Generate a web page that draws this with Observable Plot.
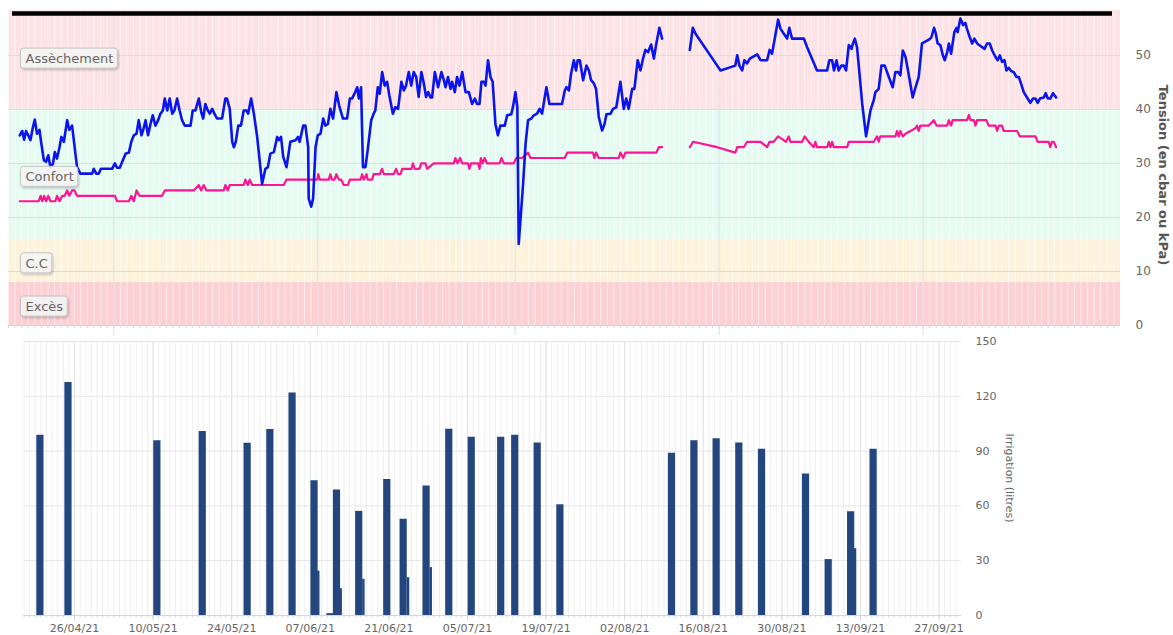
<!DOCTYPE html>
<html><head><meta charset="utf-8">
<script src="https://cdn.jsdelivr.net/npm/d3@7"></script>
<script src="https://cdn.jsdelivr.net/npm/@observablehq/plot@0.6"></script>
<style>
body{margin:0;background:#fff;font-family:"DejaVu Sans",sans-serif;}
#wrap{position:relative;width:1173px;height:635px;overflow:hidden;background:#fff}
#top{position:absolute;left:0;top:0}
#bot{position:absolute;left:0;top:336px}
</style></head><body><div id="wrap"><div id="top"></div><div id="bot"></div></div>
<script>
// ---- Tension sonde 1 (bleu) ----
const blueDates = ["04-16 17","04-17 02","04-17 09","04-17 16","04-18 00","04-18 08","04-18 17","04-19 00","04-19 08","04-19 17","04-20 00","04-20 09","04-20 17","04-21 01","04-21 09","04-21 18","04-22 01","04-22 09","04-22 18","04-23 01","04-23 10","04-23 22","04-24 06","04-24 16","04-25 04","04-25 10","04-25 22","04-27 17","04-27 23","04-28 08","04-28 17","04-29 01","04-30 18","05-01 04","05-01 12","05-01 22","05-02 06","05-02 19","05-03 07","05-03 16","05-04 01","05-04 11","05-04 19","05-05 05","05-05 13","05-05 20","05-06 05","05-06 14","05-06 22","05-07 08","05-07 18","05-08 02","05-08 11","05-08 18","05-09 03","05-09 12","05-09 21","05-10 05","05-10 15","05-11 00","05-11 09","05-11 19","05-12 16","05-13 00",
"05-13 10","05-13 22","05-14 07","05-14 14","05-14 22","05-15 07","05-15 14","05-15 23","05-16 07","05-16 17","05-17 11","05-17 23","05-18 05","05-18 15","05-19 00","05-19 06","05-19 13","05-19 22","05-20 08","05-20 18","05-21 04","05-21 10","05-21 21","05-22 07","05-22 19","05-23 13","05-24 01","05-24 10","05-24 19","05-25 08","05-25 20","05-26 02","05-26 10","05-26 18","05-27 06","05-27 20","05-28 15","05-29 00","05-29 06","05-29 19","05-30 03","05-30 13","05-30 15","05-31 00","05-31 07","05-31 16","06-01 00","06-01 10","06-01 20","06-02 04","06-02 13","06-02 22","06-03 08","06-03 20","06-04 06","06-04 20","06-05 11","06-05 21","06-06 05","06-06 14","06-07 00","06-07 06","06-07 14","06-07 21","06-08 06","06-08 14","06-09 03","06-09 12","06-09 18","06-10 03","06-10 10",
"06-10 19","06-11 04","06-11 13","06-11 21","06-12 10","06-12 19","06-13 05","06-13 17","06-14 02","06-14 10","06-14 20","06-15 05","06-15 14","06-15 23","06-16 08","06-16 18","06-17 03","06-17 11","06-17 19","06-18 03","06-18 09","06-18 19","06-19 07","06-19 19","06-20 04","06-20 10","06-20 19","06-21 04","06-21 10","06-21 20","06-22 04","06-22 13","06-22 23","06-23 11","06-23 23","06-24 11","06-24 21","06-25 05","06-25 14","06-25 21","06-26 06","06-26 12","06-26 21","06-27 06","06-27 14","06-28 00","06-28 09","06-28 18","06-29 10","06-29 19","06-30 10","06-30 17","07-01 01","07-01 08","07-01 13","07-02 04","07-02 14","07-02 23","07-03 11","07-03 20","07-04 08","07-04 17","07-05 02","07-05 08","07-05 18","07-06 05","07-08 03","07-08 13",
"07-08 19","07-09 04","07-09 12","07-09 22","07-10 06","07-10 12","07-10 20","07-11 08","07-11 20","07-12 05","07-12 13","07-12 23","07-13 07","07-13 17","07-14 05","07-14 14","07-14 21","07-15 12","07-15 21","07-16 09","07-17 00","07-17 12","07-17 21","07-18 06","07-18 19","07-19 03","07-19 15","07-20 01","07-20 09","07-20 19","07-21 05","07-21 16","07-22 02","07-22 11","07-22 22","07-23 08","07-25 00","07-27 13","07-28 00","07-28 10","07-31 17","08-01 05","08-03 11","08-03 18","08-04 02","08-04 12","08-04 20","08-05 06","08-05 16",
"08-06 06","08-06 19","08-07 07","08-08 07","08-08 16","08-09 01","08-09 11","08-09 23","08-10 08","08-10 20","08-11 08","08-11 16","08-12 02","08-13 21","08-14 09","08-15 21","08-17 10","08-17 18","08-18 04","08-18 11","08-18 20","08-19 04","08-19 14","08-19 23","08-20 07","08-20 17","08-21 03","08-21 07","08-21 15","08-21 23","08-22 18","08-23 08","08-24 00","08-24 12","08-24 18","08-25 06","08-25 16","08-26 04","08-26 19","08-27 09","08-27 19","08-28 05","08-28 13","08-28 22","08-29 08","08-29 20","08-30 10","08-30 20","08-31 08","08-31 20","09-01 21","09-02 06","09-02 16",
"09-02 21","09-03 05","09-03 15","09-04 00","09-04 07","09-04 16","09-04 22","09-05 06","09-05 18","09-06 02","09-06 06","09-06 16","09-07 02","09-07 10","09-07 16","09-08 02","09-08 11","09-08 19","09-09 05","09-10 08","09-10 17","09-11 03","09-11 12","09-12 00","09-12 08","09-12 16","09-13 00","09-13 09","09-13 16","09-14 00","09-14 09","09-14 19","09-15 04","09-15 13","09-15 21","09-16 07","09-16 19","09-17 07","09-17 17","09-18 02","09-18 10","09-18 18","09-19 08","09-19 15","09-19 23","09-20 08","09-20 18","09-21 05"];
const blueValues = [35.2,36.0,34.4,36.0,35.2,34.3,36.7,38.1,35.5,36.2,33.6,30.6,30.3,31.5,29.3,29.9,32.1,30.9,33.0,34.9,34.0,38.0,36.2,37.0,31.8,29.3,28.1,28.1,29.0,28.1,28.1,29.0,29.0,30.0,29.2,29.2,30.2,31.8,32.0,34.0,35.2,35.5,38.0,35.2,36.5,38.0,35.2,37.3,38.9,37.0,38.0,39.2,39.8,42.0,39.8,42.0,39.2,39.8,42.0,39.8,38.0,37.0,37.0,39.8,
39.8,42.0,39.5,38.3,41.0,39.8,39.2,40.1,39.2,38.3,38.3,42.0,42.0,40.1,34.0,33.0,34.0,37.0,37.0,39.8,39.8,39.2,42.0,39.2,34.9,26.2,29.0,29.3,31.8,32.1,34.9,34.3,34.9,31.2,29.3,34.0,34.3,34.9,34.0,37.0,37.0,33.0,23.5,22.0,23.5,33.0,35.2,35.5,38.3,37.0,37.3,40.1,38.3,43.2,40.7,38.3,38.3,42.0,42.0,42.9,44.1,42.0,44.1,29.3,29.3,32.4,38.0,39.2,39.8,44.1,42.9,
46.9,44.4,45.1,42.6,39.2,40.4,40.1,45.1,43.5,44.4,46.9,44.4,46.9,46.0,42.3,46.9,44.8,42.3,43.2,42.2,42.2,46.9,44.1,46.9,45.4,44.1,46.0,43.8,45.1,43.2,46.0,44.4,46.9,43.2,43.2,41.0,42.0,41.0,41.0,45.1,45.1,44.4,49.1,46.0,45.1,37.3,35.2,37.0,37.0,38.9,39.1,40.7,43.2,40.4,15.1,25.5,33.6,38.0,38.3,38.9,39.2,40.1,39.2,41.0,44.1,41.0,41.0,43.5,
44.1,43.5,46.6,49.1,47.2,49.1,49.1,45.4,48.1,47.2,45.4,44.8,43.8,38.6,36.1,37.3,39.1,39.2,40.1,40.4,45.1,40.1,42.0,40.1,43.8,43.8,49.1,47.2,49.1,51.0,50.6,52.0,49.4,52.2,55.1,53.1,NaN,51.0,55.1,54.0,48.1,47.2,48.1,50.0,48.1,47.2,49.1,48.5,49.4,
49.8,50.2,49.1,49.1,51.0,50.3,53.1,56.6,54.9,54.0,53.1,55.1,53.1,53.1,51.5,47.2,47.2,49.1,49.1,47.2,49.1,47.2,48.1,48.1,47.2,51.9,51.2,52.0,53.1,51.5,41.0,35.0,39.8,41.7,43.2,43.8,48.1,48.1,46.0,44.1,46.9,46.9,46.3,50.9,49.7,46.3,42.2,44.0,46.0,52.2,52.9,53.3,55.1,
54.3,52.2,51.9,50.0,49.1,50.6,52.2,50.3,54.3,55.1,54.3,56.8,55.6,56.0,54.9,53.4,52.2,53.1,52.2,51.2,52.2,52.2,50.9,49.7,49.1,50.0,48.8,49.1,47.2,47.7,47.1,46.9,46.0,46.0,44.8,43.2,42.2,41.2,42.0,42.0,41.2,42.0,42.2,43.0,42.0,42.0,43.0,42.2];

// ---- Tension sonde 2 (rose) ----
const pinkDates = ["04-16 17","04-19 14","04-19 21","04-20 03","04-20 10","04-20 17","04-21 01","04-21 09","04-22 03","04-22 09","04-22 18","04-23 04","04-23 13","04-23 22","04-24 06","04-24 16","04-25 01","04-25 10","05-01 04","05-01 12","05-03 07","05-03 16","05-04 01","05-04 11","05-04 22","05-08 08","05-08 18",
"05-13 04","05-13 22","05-14 07","05-14 16","05-15 02","05-17 17","05-17 23","05-18 08","05-18 15","05-20 18","05-21 00","05-21 09","05-21 16","05-22 01","05-26 20","05-27 06","05-31 22","06-01 02","06-01 07","06-02 16","06-02 22","06-03 04","06-03 13","06-03 20","06-04 05","06-04 13","06-04 23","06-05 14","06-05 21","06-07 12","06-07 18","06-08 00","06-08 10","06-08 14","06-09 06","06-09 12","06-10 10",
"06-10 19","06-11 01","06-12 13","06-12 22","06-13 05","06-13 14","06-13 20","06-15 06","06-15 11","06-15 18","06-16 11","06-16 17","06-17 09","06-17 15","06-18 15","06-21 16","06-21 22","06-22 06","06-22 15","06-22 23","06-23 20","06-24 01","06-24 07","06-25 09","06-25 14","06-25 19","06-26 01","06-26 09","06-26 17","06-28 15","06-28 22","06-29 07","06-30 19","07-01 04","07-02 01","07-02 23","07-03 08","07-08 13",
"07-08 22","07-12 20","07-13 01","07-13 07","07-13 17","07-16 18","07-17 00","07-17 10","07-17 18","07-22 11","07-22 20","07-23 08","07-25 00","07-27 13","07-28 01","07-31 17","08-03 11","08-03 18","08-04 18","08-05 06",
"08-06 06","08-07 07","08-08 07","08-08 16","08-09 07","08-09 23","08-10 14","08-11 04","08-11 14","08-11 20","08-13 15","08-14 00","08-14 15","08-15 09","08-15 15","08-15 21","08-17 10","08-17 16","08-17 22","08-18 04","08-18 10","08-20 11","08-20 17","08-24 12","08-25 00","08-25 06","08-25 12","08-27 19","08-28 01","08-28 07","08-28 13","08-28 22","08-29 08","08-30 20","08-31 02","08-31 08","08-31 14","09-01 21","09-02 15",
"09-03 01","09-04 16","09-04 22","09-05 06","09-05 12","09-07 16","09-07 23","09-08 05","09-08 17","09-08 23","09-09 05","09-10 15","09-10 23","09-12 00","09-12 06","09-12 12","09-13 00","09-13 06","09-15 07","09-15 17","09-18 02","09-18 10","09-20 02","09-20 08","09-20 14","09-20 21","09-21 05"];
const pinkValues = [23,23,24,23,24,23,24,23,23,24,23,24,24,25,24,25,25,24,24,23,23,24,23,25,24,24,25,
25,26,25,26,25,25,26,25,26,26,27,26,27,26,26,27,27,28,27,27,28,27,27,28,27,27,26,26,27,27,28,27,28,27,27,28,28,
29,28,28,29,28,28,29,29,30,29,29,30,30,29,30,30,31,30,31,30,30,29,30,30,29,31,30,31,30,30,31,30,30,31,31,32,31,31,
32,32,31,32,31,31,32,31,32,32,33,33,NaN,33,34,33,32,33,33,34,
34,34,33,34,34,35,34.5,34,35,34,34,35,34,33,34,33,33,34,33,34,33,33,34,34,35,34,35,35,36,35,36,35,35.5,36.5,37,36,37,37,38,
37,37,38,37,38,38,39,38,38,37,38,38,37,37,36,37,37,36,36,35,35,34,34,33,34,34,33];

// ---- Zones (bandes) ----
const bandNames = ["Excès", "C.C", "Confort", "Assèchement"];
const bandFrom = [0, 8, 16, 40];
const bandTo = [8, 16, 40, 58.3];
const bandColors = ["#fdd0d3", "#fdf3dc", "#e6fbf1", "#fde3e5"];
const seuil = [57.75];
const tensionTicks = [0, 10, 20, 30, 40, 50];

// ---- Irrigation ----
const irrigDates = ["04-19 20","04-24 20","05-10 16","05-18 18","05-26 18","05-30 19","06-03 18","06-07 16","06-10 12","06-11 16","06-15 15","06-20 15","06-23 13","06-27 15","07-01 16","07-05 16","07-10 22","07-13 10","07-17 10","07-21 11","08-10 08","08-14 08","08-18 07","08-22 08","08-26 09","09-03 05","09-07 06","09-11 06","09-15 06"];
const irrigValues = [98.7,127.6,95.6,100.7,94.3,101.8,121.8,73.8,1,68.7,57.0,74.5,52.7,70.9,102.0,97.6,97.6,98.7,94.5,60.6,88.8,95.6,96.7,94.5,91.0,77.5,30.6,56.8,91.0];
const irrig2Dates = ["06-08 10","06-12 10","06-16 11","06-24 10","06-28 11","09-12 01"];
const irrig2Values = [24.3,14.7,19.8,20.7,26.2,36.6];
const irrigTicks = [0, 30, 60, 90, 120, 150];
const dateTicks = ["04-26","05-10","05-24","06-07","06-21","07-05","07-19","08-02","08-16","08-30","09-13","09-27"];

// ---- build ----
const P = s => d3.utcParse("%Y-%m-%d %H")("2021-" + s);
const PD = s => d3.utcParse("%Y-%m-%d")("2021-" + s);
const blue = blueDates.map((d, i) => ({date: P(d), value: blueValues[i]}));
const pink = pinkDates.map((d, i) => ({date: P(d), value: pinkValues[i]}));
const bands = bandNames.map((n, i) => ({name: n, from: bandFrom[i], to: bandTo[i], color: bandColors[i]}));
const irrig = irrigDates.map((d, i) => ({date: P(d), value: irrigValues[i]}));
const irrig2 = irrig2Dates.map((d, i) => ({date: P(d), value: irrig2Values[i]}));
const ticksX = dateTicks.map(PD);

const topX = [PD("04-15"), PD("10-01")];
const topDays = d3.utcDay.range(topX[0], topX[1]);
const months = d3.utcMonth.range(PD("05-01"), topX[1]);
const font = '"DejaVu Sans", sans-serif';
const labelOpts = {y: d => (d.from + d.to) / 2, text: "name", frameAnchor: "left", dx: 17, textAnchor: "start", fontSize: 13, fill: "#666"};

const topPlot = Plot.plot({
  width: 1173, height: 336,
  marginLeft: 8, marginRight: 53, marginTop: 10, marginBottom: 11,
  style: {fontFamily: font, fontSize: "12px", color: "#666", background: "transparent", overflow: "visible"},
  x: {type: "utc", domain: topX, axis: null},
  y: {domain: [0, 58.3], axis: "right", ticks: tensionTicks, tickSize: 0, tickPadding: 15, label: null},
  marks: [
    ...bands.map(b => Plot.rect([b], {x1: () => topX[0], x2: () => topX[1], y1: "from", y2: "to", fill: b.color})),
    Plot.ruleX(topDays, {y1: 0, y2: 58.3, stroke: "#fff", strokeOpacity: 0.6}),
    Plot.ruleY(tensionTicks.slice(1), {stroke: "#dcdcdc"}),
    Plot.ruleX(months, {y1: -1.85, y2: 58.3, stroke: "#dcdfe9"}),
    Plot.ruleX(topDays, {y1: 0, y2: -0.6, stroke: "#ccd6eb"}),
    Plot.ruleY([0], {stroke: "#ccd6eb"}),
    Plot.ruleY(seuil, {stroke: "#000", strokeWidth: 4.5, insetLeft: 4, insetRight: 8}),
    Plot.line(pink, {x: "date", y: "value", stroke: "#ff1493", strokeWidth: 2.2}),
    Plot.line(blue, {x: "date", y: "value", stroke: "#0a14f0", strokeWidth: 2.6}),
    Plot.text(bands, {...labelOpts, filter: d => d.to < 50, dy: 3}),
    Plot.text(bands, {...labelOpts, filter: d => d.to >= 50, dy: -1})
  ]
});
document.getElementById("top").append(topPlot);

// label boxes
const ts = d3.select(topPlot);
ts.insert("defs", ":first-child").html('<filter id="shadow" x="-20%" y="-30%" width="150%" height="180%"><feDropShadow dx="1" dy="1.5" stdDeviation="1" flood-color="#000" flood-opacity="0.25"/></filter>');
ts.selectAll("text").filter(function() { return bandNames.includes(this.textContent); }).each(function() {
  const b = this.getBBox();
  d3.select(this.parentNode).insert("rect", () => this)
    .attr("transform", this.getAttribute("transform"))
    .attr("x", b.x - 5).attr("y", b.y - 3).attr("width", b.width + 9).attr("height", b.height + 5)
    .attr("rx", 3).attr("fill", "rgba(248,248,248,0.85)").attr("stroke", "#c4c4c4").attr("stroke-width", 1)
    .attr("filter", "url(#shadow)");
});
ts.append("text").text("Tension (en cbar ou kPa)")
  .attr("transform", "translate(1159,175) rotate(90)")
  .attr("text-anchor", "middle").attr("font-family", font).attr("font-size", 13)
  .attr("font-weight", "bold").attr("fill", "#555");

const botX = [PD("04-17"), PD("10-01")];
const botDays = d3.utcDay.range(botX[0], botX[1]);
const botPlot = Plot.plot({
  width: 1173, height: 299,
  marginLeft: 23.5, marginRight: 212, marginTop: 5, marginBottom: 20,
  style: {fontFamily: font, fontSize: "11px", color: "#666", background: "transparent", overflow: "visible"},
  x: {type: "utc", domain: botX, ticks: ticksX, tickFormat: d3.utcFormat("%d/%m/%y"), tickSize: 0, tickPadding: 9, label: null},
  y: {domain: [0, 150], axis: "right", ticks: irrigTicks, tickSize: 0, tickPadding: 14, label: null},
  marks: [
    Plot.ruleX(botDays, {stroke: "#f0f0f0"}),
    Plot.ruleX(ticksX, {stroke: "#e2e2e2"}),
    Plot.ruleY(irrigTicks.slice(1), {stroke: "#e6e6e6"}),
    Plot.ruleX(botDays, {y1: 0, y2: -1.4, stroke: "#ccd6eb"}),
    Plot.ruleX(ticksX, {y1: 0, y2: -2.8, stroke: "#ccd6eb"}),
    Plot.ruleY([0], {stroke: "#ccd6eb"}),
    Plot.ruleX(irrig, {x: "date", y1: 0, y2: "value", stroke: "#23467f", strokeWidth: 7.2}),
    Plot.ruleX(irrig2, {x: "date", y1: 0, y2: "value", stroke: "#23467f", strokeWidth: 2.4})
  ]
});
document.getElementById("bot").append(botPlot);
d3.select(botPlot).append("text").text("Irrigation (litres)")
  .attr("transform", "translate(1006,142) rotate(90)")
  .attr("text-anchor", "middle").attr("font-family", font).attr("font-size", 11)
  .attr("fill", "#666");
</script>
</body></html>
